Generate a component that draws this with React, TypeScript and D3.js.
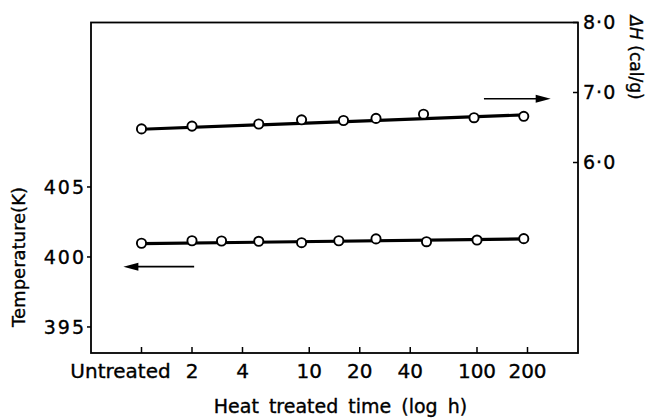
import React, { useRef, useEffect } from 'react';
import * as d3 from 'd3';

// heat treated time in hours (untreated plotted at 1 h)
const dhTimes = [1, 2, 5, 9, 16, 25, 48, 96, 190];
const dhValues = [6.48, 6.52, 6.55, 6.61, 6.6, 6.63, 6.69, 6.64, 6.66];
const dhTrend = [6.475, 6.68];

const tTimes = [1, 2, 3, 5, 9, 15, 25, 50, 100, 190];
const tValues = [400.98, 401.16, 401.14, 401.12, 401.02, 401.16, 401.29, 401.09, 401.21, 401.31];
const tTrend = [400.95, 401.29];

const xTicks = [1, 2, 4, 10, 20, 40, 100, 200];
const xTickLabels = ['Untreated', '2', '4', '10', '20', '40', '100', '200'];
const leftTicks = [395, 400, 405];
const rightTicks = [6, 7, 8];
const rightTickLabels = ['6·0', '7·0', '8·0'];

const W = 650;
const H = 418;
const FONT = '"DejaVu Sans", sans-serif';

function App() {
  const ref = useRef<SVGSVGElement | null>(null);

  useEffect(() => {
    const svg = d3.select(ref.current);
    svg.selectAll('*').remove();

    const m = { left: 91, right: 578, top: 22.5, bottom: 353 };

    const x = d3.scaleLog().domain([0.5, 400]).range([m.left, m.right]);
    const yL = d3.scaleLinear().domain([393.14, 416.75]).range([m.bottom, m.top]);
    const yR = d3.scaleLinear().domain([3.279, 8.0]).range([m.bottom, m.top]);

    // scanned-print look: slightly heavier glyphs
    const txt = (sel: any) => sel
      .attr('font-family', FONT)
      .attr('fill', '#000')
      .attr('stroke', '#000')
      .attr('stroke-width', 0.35);

    // frame
    svg.append('rect')
      .attr('x', m.left).attr('y', m.top)
      .attr('width', m.right - m.left).attr('height', m.bottom - m.top)
      .attr('fill', 'none').attr('stroke', '#000').attr('stroke-width', 1.8);

    // x axis ticks (inward) + labels
    const gx = svg.append('g');
    xTicks.forEach((t, i) => {
      gx.append('line')
        .attr('x1', x(t)).attr('x2', x(t))
        .attr('y1', m.bottom).attr('y2', m.bottom - 6)
        .attr('stroke', '#000').attr('stroke-width', 1.5);
      gx.append('text')
        .call(txt)
        .attr('x', x(t)).attr('dx', i === 0 ? -21 : 0)
        .attr('y', 378)
        .attr('text-anchor', 'middle')
        .attr('font-size', 20)
        .text(xTickLabels[i]);
    });
    svg.append('text')
      .call(txt)
      .attr('x', (m.left + m.right) / 2 + 6).attr('y', 413)
      .attr('text-anchor', 'middle')
      .attr('font-size', 19)
      .attr('word-spacing', 4)
      .text('Heat treated time (log h)');

    // left axis
    const gl = svg.append('g');
    leftTicks.forEach(v => {
      gl.append('line')
        .attr('x1', m.left - 4).attr('x2', m.left)
        .attr('y1', yL(v)).attr('y2', yL(v))
        .attr('stroke', '#000').attr('stroke-width', 1.5);
      gl.append('text')
        .call(txt)
        .attr('x', m.left - 5).attr('y', yL(v)).attr('dy', '0.36em')
        .attr('text-anchor', 'end')
        .attr('font-size', 19)
        .attr('letter-spacing', 2)
        .text(String(v));
    });
    svg.append('text')
      .call(txt)
      .attr('transform', `translate(25,${yL(400)}) rotate(-90)`)
      .attr('text-anchor', 'middle')
      .attr('font-size', 18)
      .text('Temperature(K)');

    // right axis
    const gr = svg.append('g');
    rightTicks.forEach((v, i) => {
      gr.append('line')
        .attr('x1', m.right - 5).attr('x2', m.right)
        .attr('y1', yR(v)).attr('y2', yR(v))
        .attr('stroke', '#000').attr('stroke-width', 1.5);
      gr.append('text')
        .call(txt)
        .attr('x', m.right + 5).attr('y', yR(v)).attr('dy', '0.36em')
        .attr('font-size', 19)
        .attr('letter-spacing', 1)
        .text(rightTickLabels[i]);
    });
    const rl = svg.append('text')
      .call(txt)
      .attr('transform', `translate(630,${yR(7.5)}) rotate(90)`)
      .attr('text-anchor', 'middle')
      .attr('font-size', 17);
    rl.append('tspan').attr('font-style', 'italic').text('ΔH');
    rl.append('tspan').text(' (cal/g)');

    // trend lines
    const trendT = [dhTimes[0], dhTimes[dhTimes.length - 1]];
    svg.append('line')
      .attr('x1', x(trendT[0])).attr('x2', x(trendT[1]))
      .attr('y1', yR(dhTrend[0])).attr('y2', yR(dhTrend[1]))
      .attr('stroke', '#000').attr('stroke-width', 3.2);
    const trendT2 = [tTimes[0], tTimes[tTimes.length - 1]];
    svg.append('line')
      .attr('x1', x(trendT2[0])).attr('x2', x(trendT2[1]))
      .attr('y1', yL(tTrend[0])).attr('y2', yL(tTrend[1]))
      .attr('stroke', '#000').attr('stroke-width', 3.2);

    // points
    svg.append('g').selectAll('circle')
      .data(dhTimes)
      .join('circle')
      .attr('cx', d => x(d))
      .attr('cy', (d, i) => yR(dhValues[i]))
      .attr('r', 4.6)
      .attr('fill', '#fff').attr('stroke', '#000').attr('stroke-width', 1.9);
    svg.append('g').selectAll('circle')
      .data(tTimes)
      .join('circle')
      .attr('cx', d => x(d))
      .attr('cy', (d, i) => yL(tValues[i]))
      .attr('r', 4.6)
      .attr('fill', '#fff').attr('stroke', '#000').attr('stroke-width', 1.9);

    // arrows pointing to each series' axis
    const arrow = (x1: number, x2: number, y: number) => {
      const dir = Math.sign(x2 - x1);
      svg.append('line')
        .attr('x1', x1).attr('x2', x2 - dir * 10)
        .attr('y1', y).attr('y2', y)
        .attr('stroke', '#000').attr('stroke-width', 1.6);
      svg.append('path')
        .attr('d', `M${x2},${y} L${x2 - dir * 15},${y - 4} L${x2 - dir * 15},${y + 4} Z`)
        .attr('fill', '#000');
    };
    arrow(x(110), x(275), yR(6.91));
    arrow(x(2.06), x(0.78), yL(399.31));
  }, []);

  return (
    <svg
      ref={ref}
      width={W}
      height={H}
      style={{ position: 'absolute', left: 0, top: 0, background: '#fff' }}
    />
  );
}

export default App;
